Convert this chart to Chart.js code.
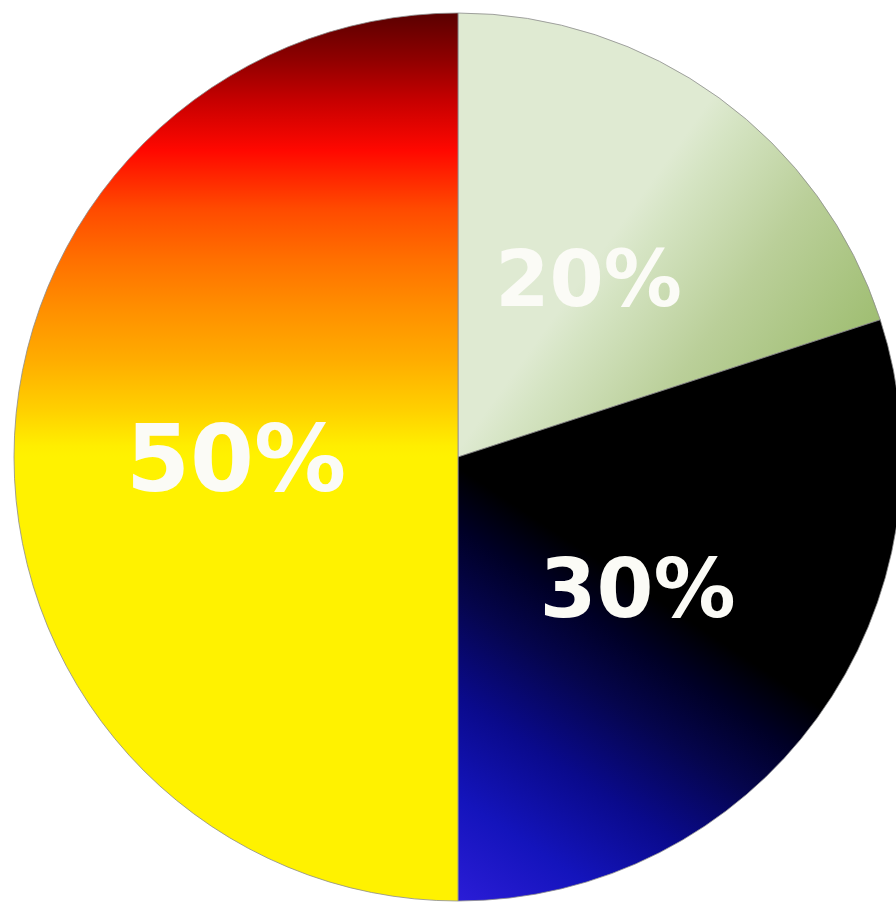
<!DOCTYPE html>
<html>
<head>
<meta charset="utf-8">
<script src="https://cdn.jsdelivr.net/npm/chart.js@4"></script>
<style>
  html, body { margin: 0; padding: 0; background: #fff; overflow: hidden; }
  #pie { position: absolute; left: 0; top: 0; }
</style>
</head>
<body>
<canvas id="pie" width="916" height="914"></canvas>
<script>
// Datos del grafico
const categorias = ['Verde', 'Azul', 'Amarillo'];
const valores = [20, 30, 50];
// tamaño de letra de cada etiqueta
const tamLetra = [78, 82, 92];

// Gradientes de cada porcion (relativos al centro y radio)
function gradiente(ctx, i, cx, cy, r) {
    let g;
    if (i === 0) {
        g = ctx.createLinearGradient(cx + 0.32 * r, cy - 0.46 * r, cx + 0.82 * r, cy - 0.10 * r);
        g.addColorStop(0, '#dfead2');
        g.addColorStop(0.12, '#d5e4c3');
        g.addColorStop(0.5, '#bacf99');
        g.addColorStop(1, '#9ebd70');
    } else if (i === 1) {
        g = ctx.createLinearGradient(cx + 0.005 * r, cy + 0.998 * r, cx + 0.525 * r, cy + 0.212 * r);
        g.addColorStop(0, '#2a1cd6');
        g.addColorStop(0.2, '#1414bc');
        g.addColorStop(0.4, '#0a0a8c');
        g.addColorStop(0.6, '#05054c');
        g.addColorStop(0.74, '#000026');
        g.addColorStop(0.86, '#000000');
        g.addColorStop(1, '#000000');
    } else {
        g = ctx.createLinearGradient(0, cy - r, 0, cy);
        g.addColorStop(0, '#5a0000');
        g.addColorStop(0.106, '#900000');
        g.addColorStop(0.2, '#c80000');
        g.addColorStop(0.31, '#ff0800');
        g.addColorStop(0.44, '#ff4a00');
        g.addColorStop(0.556, '#ff7000');
        g.addColorStop(0.67, '#ff9000');
        g.addColorStop(0.78, '#ffac00');
        g.addColorStop(0.894, '#ffd000');
        g.addColorStop(0.975, '#ffee00');
        g.addColorStop(1, '#fff200');
    }
    return g;
}

// Etiquetas de porcentaje sobre cada porcion
const etiquetas = {
    id: 'etiquetas',
    afterDatasetsDraw(chart) {
        const ctx = chart.ctx;
        const meta = chart.getDatasetMeta(0);
        ctx.save();
        ctx.fillStyle = '#fbfbf6';
        ctx.textAlign = 'center';
        ctx.textBaseline = 'alphabetic';
        meta.data.forEach((arc, i) => {
            const pos = arc.tooltipPosition();
            const size = tamLetra[i];
            ctx.font = `bold ${size}px "DejaVu Sans"`;
            ctx.fillText(`${valores[i]}%`, pos.x, pos.y + 0.3645 * size);
        });
        ctx.restore();
    }
};

const ctx = document.getElementById('pie');
new Chart(ctx, {
    type: 'pie',
    data: {
        labels: categorias,
        datasets: [{
            data: valores,
            backgroundColor: (c) => {
                const chart = c.chart;
                const area = chart.chartArea;
                if (!area) return '#ccc';
                const cx = (area.left + area.right) / 2;
                const cy = (area.top + area.bottom) / 2;
                const r = 444;
                return gradiente(chart.ctx, c.dataIndex, cx, cy, r);
            },
            borderColor: 'rgba(140,140,140,0.8)',
            borderWidth: 1,
            hoverOffset: 0,
            radius: 444
        }]
    },
    options: {
        responsive: false,
        devicePixelRatio: 1,
        animation: false,
        layout: { padding: 0 },
        plugins: {
            legend: { display: false },
            tooltip: { enabled: false }
        }
    },
    plugins: [etiquetas]
});
</script>
</body>
</html>
